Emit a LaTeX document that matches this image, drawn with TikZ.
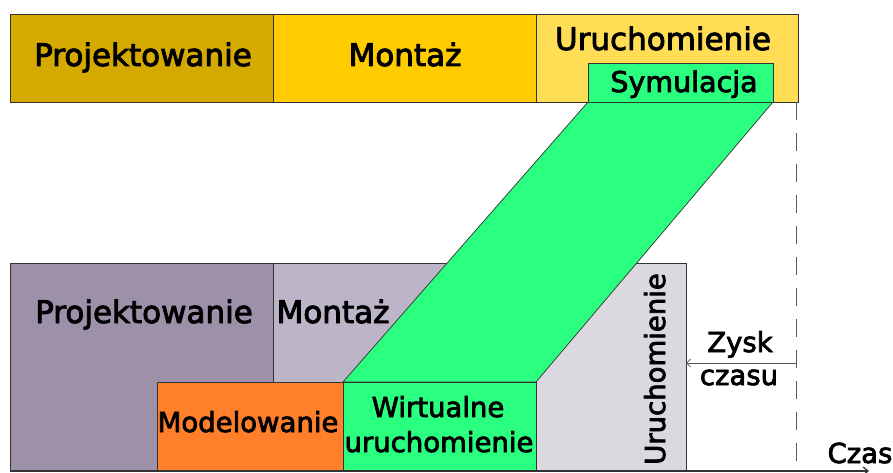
\documentclass[tikz,border=0pt]{standalone}
\usepackage{fontspec}
\setmainfont{DejaVu Sans}[FakeBold=2.8]
\usetikzlibrary{arrows.meta}
\definecolor{projA}{HTML}{D4AA00}
\definecolor{montA}{HTML}{FFCC00}
\definecolor{uruA}{HTML}{FFDD55}
\definecolor{simgreen}{HTML}{2AFF80}
\definecolor{projB}{HTML}{9D91AA}
\definecolor{montB}{HTML}{BCB5C8}
\definecolor{uruB}{HTML}{DCD8E0}
\definecolor{modorange}{HTML}{FF7F2A}
\definecolor{edge}{HTML}{333333}
\begin{document}
\begin{tikzpicture}[x=1pt,y=-1pt,
  box/.style={draw=edge, line width=0.9pt, inner sep=0pt, outer sep=0pt, anchor=north west},
  lbl/.style={inner sep=0pt, anchor=base, font=\fontsize{31}{37}\selectfont},
  lbls/.style={inner sep=0pt, anchor=base, font=\fontsize{27.5}{33}\selectfont},
  lblm/.style={inner sep=0pt, anchor=base, font=\fontsize{28.5}{34}\selectfont},
]
\useasboundingbox (0,0) rectangle (893,473);

% top bar
\node[box, fill=projA, minimum width=263pt, minimum height=88pt] (tP) at (10,14) {};
\node[box, fill=montA, minimum width=263pt, minimum height=88pt] (tM) at (273,14) {};
\node[box, fill=uruA, minimum width=262pt, minimum height=88pt] (tU) at (536,14) {};

% bottom boxes
\node[box, fill=projB, minimum width=263pt, minimum height=208pt] (bP) at (10,263) {};
\node[box, fill=montB, minimum width=263pt, minimum height=208pt] (bM) at (273,263) {};
\node[box, fill=uruB, minimum width=150pt, minimum height=208pt] (bU) at (536,263) {};

% green band
\coordinate (g1) at (343,382);
\coordinate (g2) at (536,382);
\coordinate (g3) at (773,102);
\coordinate (g4) at (588,102);
\filldraw[fill=simgreen, draw=edge, line width=0.7pt] (g1) -- (g2) -- (g3) -- (g4) -- cycle;

\node[box, fill=simgreen, minimum width=185pt, minimum height=39pt] (sym) at (588,63) {};
\node[box, fill=modorange, minimum width=186pt, minimum height=89pt] (mod) at (157,382) {};
\node[box, fill=simgreen, minimum width=193pt, minimum height=89pt] (wir) at (343,382) {};

% time axis
\coordinate (ax0) at (10,471);
\coordinate (ax1) at (869,471);
\draw[edge, line width=1.2pt, -{Straight Barb[length=5pt,width=8pt]}] (ax0) -- (ax1);

% dashed line and gain
\coordinate (d0) at (796,102);
\coordinate (d1) at (796,471);
\draw[black!65, line width=1pt, dash pattern=on 18pt off 13pt] (d0) -- (d1);
\coordinate (zy) at (796,363);
\draw[black!65, line width=0.8pt, -{Straight Barb[length=4pt,width=8pt]}] (zy) -- (zy -| bU.east);

% labels
\node[lbl] (tPl) at (143,66) {Projektowanie};
\node[lbl] (tMl) at (405,66) {Montaż};
\node[lbl] (tUl) at (663,50) {Uruchomienie};
\node[lblm] (syml) at (684,92) {Symulacja};
\node[lbl] (bPl) at (144,323) {Projektowanie};
\node[lbl] (bMl) at (333,323) {Montaż};
\node[lbls] (modl) at (248,432) {Modelowanie};
\node[lbls] (wir1) at (438,417) {Wirtualne};
\node[lbls] (wir2) at (439,452) {uruchomienie};
\node[lbls, rotate=90, anchor=base west] (bUl) at (665,465) {Uruchomienie};
\node[lbls] (zy1) at (740,352) {Zysk};
\node[lbls] (zy2) at (739,385) {czasu};
\node[lbls] (czas) at (860,463) {Czas};
\end{tikzpicture}
\end{document}
